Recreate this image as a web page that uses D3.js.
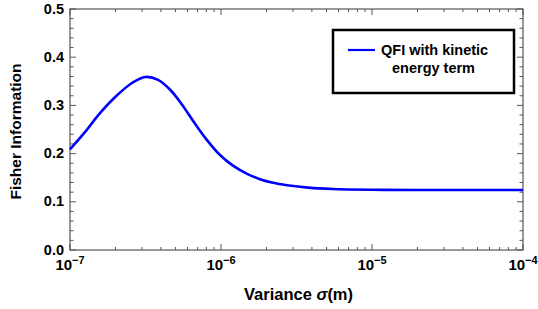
<!DOCTYPE html>
<html>
<head>
<meta charset="utf-8">
<script src="https://cdn.jsdelivr.net/npm/d3@7"></script>
<style>
  body { margin: 0; background: #fff; }
  text { font-family: "Liberation Sans", Arial, sans-serif; font-weight: bold; }
</style>
</head>
<body>
<div id="chart"></div>
<script>
// values
const sigma = [1.0e-7, 1.26e-7, 1.54e-7, 2.0e-7, 2.56e-7, 3.16e-7, 3.83e-7, 4.59e-7, 5.51e-7, 6.63e-7,
               8.08e-7, 9.85e-7, 1.20e-6, 1.49e-6, 1.81e-6, 2.21e-6, 2.74e-6, 3.78e-6, 5.5e-6, 1.0e-5,
               2.0e-5, 1.0e-4];
const fisher = [0.209, 0.245, 0.280, 0.318, 0.346, 0.359, 0.353, 0.333, 0.302, 0.265,
                0.228, 0.197, 0.175, 0.158, 0.147, 0.1395, 0.1345, 0.1295, 0.1266, 0.125,
                0.1245, 0.1245];
const xTickExp = [-7, -6, -5, -4];
const yTicks = [0, 0.1, 0.2, 0.3, 0.4, 0.5];
const seriesName = ["QFI with kinetic", "energy term"];

const width = 538, height = 309;
const margin = { left: 70, right: 15, top: 9, bottom: 59 };

const svg = d3.select("#chart").append("svg")
  .attr("width", width)
  .attr("height", height);

const x = d3.scaleLog().domain([1e-7, 1e-4]).range([margin.left, width - margin.right]);
const y = d3.scaleLinear().domain([0, 0.5]).range([height - margin.bottom, margin.top]);

const frameColor = "#555";
const x0 = x.range()[0], x1 = x.range()[1];
const y0 = y.range()[0], y1 = y.range()[1];

// minor ticks
let xMinor = [];
for (let e = -7; e < -4; e++) {
  for (let m = 2; m <= 9; m++) xMinor.push(m * Math.pow(10, e));
}
let yMinor = d3.range(0, 0.5001, 0.02).filter(v => Math.abs(Math.round(v * 10) - v * 10) > 1e-6);

const tickG = svg.append("g").attr("stroke", frameColor).attr("stroke-width", 1);

function xTicks(vals, len) {
  vals.forEach(v => {
    const px = x(v);
    tickG.append("line").attr("x1", px).attr("x2", px).attr("y1", y0).attr("y2", y0 - len);
    tickG.append("line").attr("x1", px).attr("x2", px).attr("y1", y1).attr("y2", y1 + len);
  });
}
function yTicksDraw(vals, len) {
  vals.forEach(v => {
    const py = y(v);
    tickG.append("line").attr("x1", x0).attr("x2", x0 + len).attr("y1", py).attr("y2", py);
    tickG.append("line").attr("x1", x1).attr("x2", x1 - len).attr("y1", py).attr("y2", py);
  });
}
xTicks(xMinor, 3);
xTicks(xTickExp.map(e => Math.pow(10, e)), 6);
yTicksDraw(yMinor, 3.5);
yTicksDraw(yTicks, 6);

// frame
svg.append("rect")
  .attr("x", x0).attr("y", y1)
  .attr("width", x1 - x0).attr("height", y0 - y1)
  .attr("fill", "none")
  .attr("stroke", frameColor)
  .attr("stroke-width", 1.2);

// y tick labels
svg.append("g").selectAll("text")
  .data(yTicks).enter()
  .append("text")
  .attr("x", x0 - 6)
  .attr("y", d => y(d) + 4.5)
  .attr("text-anchor", "end")
  .style("font-size", "14.5px")
  .text(d => d.toFixed(1));

// x tick labels
const xl = svg.append("g").selectAll("text")
  .data(xTickExp).enter()
  .append("text")
  .attr("x", d => x(Math.pow(10, d)))
  .attr("y", y0 + 20)
  .attr("text-anchor", "middle")
  .style("font-size", "15px");
xl.append("tspan").text("10");
xl.append("tspan").attr("dy", -6).style("font-size", "11px").text(d => "\u2212" + Math.abs(d));

// curve
const line = d3.line()
  .x((d, i) => x(sigma[i]))
  .y(d => y(d))
  .curve(d3.curveCatmullRom.alpha(0.5));

svg.append("path")
  .datum(fisher)
  .attr("d", line)
  .attr("fill", "none")
  .attr("stroke", "#0000ff")
  .attr("stroke-width", 2.6);

// axis titles
const xt = svg.append("text")
  .attr("x", (x0 + x1) / 2 + 2)
  .attr("y", 300)
  .attr("text-anchor", "middle")
  .style("font-size", "16.5px");
xt.append("tspan").text("Variance ");
xt.append("tspan").style("font-style", "italic").text("\u03c3");
xt.append("tspan").text("(m)");

svg.append("text")
  .attr("transform", "translate(21," + ((y0 + y1) / 2 + 2) + ") rotate(-90)")
  .attr("text-anchor", "middle")
  .style("font-size", "15.5px")
  .text("Fisher Information");

// legend
const lg = svg.append("g");
lg.append("rect")
  .attr("x", 333).attr("y", 30)
  .attr("width", 181).attr("height", 63)
  .attr("fill", "#fff")
  .attr("stroke", "#000")
  .attr("stroke-width", 2.5);
lg.append("line")
  .attr("x1", 348).attr("x2", 375)
  .attr("y1", 50).attr("y2", 50)
  .attr("stroke", "#0000ff")
  .attr("stroke-width", 2.2);
lg.append("text").attr("x", 381).attr("y", 54.5)
  .style("font-size", "14.5px").text(seriesName[0]);
lg.append("text").attr("x", 392).attr("y", 73)
  .style("font-size", "14.5px").text(seriesName[1]);
</script>
</body>
</html>
